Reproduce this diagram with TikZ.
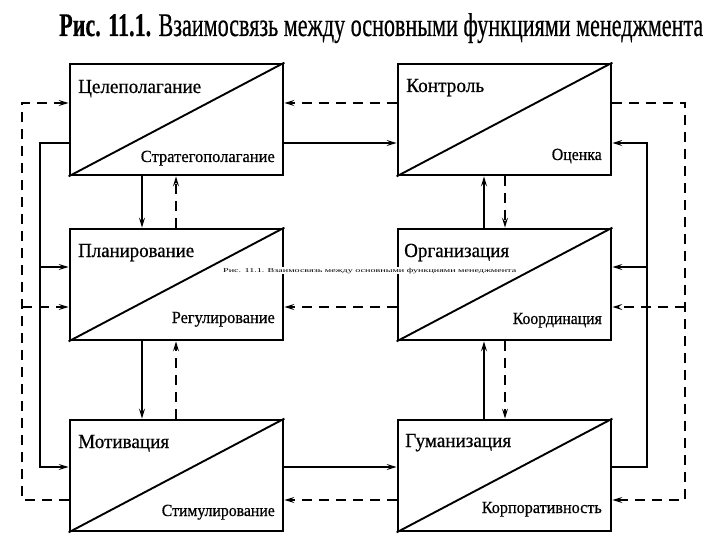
\documentclass[tikz,border=0pt]{standalone}
\usepackage{fontspec}
\setmainfont{Liberation Serif}
\newfontfamily\heavyfont[FakeBold=0.6]{Liberation Serif}
\usetikzlibrary{arrows.meta}
\newcommand{\fitw}[2]{\resizebox{#1}{\height}{#2}}
\begin{document}
\begin{tikzpicture}[x=1pt,y=-1pt,
  fbox/.style={draw,fill=white,line width=2.8pt,minimum width=213pt,minimum height=111pt,inner sep=0pt},
  diag/.style={line width=1.9pt},
  conn/.style={line width=1.6pt},
  dconn/.style={line width=1.7pt,dash pattern=on 10pt off 7pt},
  arr/.style={-{Stealth[length=10pt,width=6pt,inset=4pt]}},
  tlab/.style={anchor=base west,inner sep=1pt,fill=white,font=\heavyfont\fontsize{20}{20}\selectfont},
  blab/.style={anchor=base east,inner sep=1pt,fill=white,font=\heavyfont\fontsize{17}{17}\selectfont},
]
\fill[white] (0,0) rectangle (720,540);
\useasboundingbox (0,0) rectangle (720,540);

% title
\node[anchor=base west,inner sep=0pt] (title) at (59,36)
  {\fitw{644pt}{\heavyfont\fontsize{33}{33}\selectfont\textbf{Рис. 11.1.} Взаимосвязь между основными функциями менеджмента}};

% helper coordinates
\coordinate (yD1) at (0,103);
\coordinate (yS1) at (0,143);
\coordinate (yS2) at (0,267);
\coordinate (yD2) at (0,307);
\coordinate (yS3) at (0,467);
\coordinate (yD3) at (0,500);
\coordinate (xLd) at (22,0);
\coordinate (xLs) at (40,0);
\coordinate (xRs) at (647,0);
\coordinate (xRd) at (685,0);
\coordinate (xa) at (142,0);
\coordinate (xb) at (176,0);
\coordinate (xc) at (484,0);
\coordinate (xd) at (505,0);

% boxes
\node[fbox] (ts) at (176.5,119.5) {};
\node[fbox] (pl) at (176.5,284.5) {};
\node[fbox] (mo) at (176.5,475.5) {};
\node[fbox] (ko) at (504.5,119.5) {};
\node[fbox] (or) at (504.5,284.5) {};
\node[fbox] (gu) at (504.5,475.5) {};

\foreach \n in {ts,pl,mo,ko,or,gu}
  \draw[diag] (\n.south west) -- (\n.north east);

% labels
\node[tlab] (l1) at (77,93) {\fitw{123pt}{Целеполагание}};
\node[blab] (l2) at (276,162) {\fitw{134pt}{Стратегополагание}};
\node[tlab] (l3) at (405,92) {\fitw{78pt}{Контроль}};
\node[blab] (l4) at (603,160) {\fitw{50pt}{Оценка}};
\node[tlab] (l5) at (77,257) {\fitw{116pt}{Планирование}};
\node[blab] (l6) at (276,323) {\fitw{103pt}{Регулирование}};
\node[tlab] (l7) at (403,257) {\fitw{105pt}{Организация}};
\node[blab] (l8) at (603,324) {\fitw{89pt}{Координация}};
\node[tlab] (l9) at (77,448) {\fitw{91pt}{Мотивация}};
\node[blab] (l10) at (276,516) {\fitw{113pt}{Стимулирование}};
\node[tlab] (l11) at (404,447) {\fitw{106pt}{Гуманизация}};
\node[blab] (l12) at (603,513) {\fitw{120pt}{Корпоративность}};

% left outer dashed
\draw[dconn,arr] (mo.west |- yD3) -- (xLd |- yD3) -- (xLd |- yD1) -- (ts.west |- yD1);
\draw[dconn,arr] (xLd |- yD2) -- (pl.west |- yD2);
% left solid
\draw[conn,arr] (ts.west |- yS1) -- (xLs |- yS1) -- (xLs |- yS3) -- (mo.west |- yS3);
\draw[conn,arr] (xLs |- yS2) -- (pl.west |- yS2);
% middle horizontals
\draw[conn,arr] (ts.east |- yS1) -- (ko.west |- yS1);
\draw[dconn,arr] (ko.west |- yD1) -- (ts.east |- yD1);
\draw[dconn,arr] (or.west |- yD2) -- (pl.east |- yD2);
\draw[conn,arr] (mo.east |- yS3) -- (gu.west |- yS3);
\draw[dconn,arr] (gu.west |- yD3) -- (mo.east |- yD3);
% right outer dashed
\draw[dconn,arr] (ko.east |- yD1) -- (xRd |- yD1) -- (xRd |- yD3) -- (gu.east |- yD3);
\draw[dconn,arr] (xRd |- yD2) -- (or.east |- yD2);
% right solid
\draw[conn,arr] (gu.east |- yS3) -- (xRs |- yS3) -- (xRs |- yS1) -- (ko.east |- yS1);
\draw[conn,arr] (xRs |- yS2) -- (or.east |- yS2);
% verticals left
\draw[conn,arr] (ts.south -| xa) -- (pl.north -| xa);
\draw[conn,arr] (pl.south -| xa) -- (mo.north -| xa);
\draw[dconn,arr] (pl.north -| xb) -- (ts.south -| xb);
\draw[dconn,arr] (mo.north -| xb) -- (pl.south -| xb);
% verticals right
\draw[conn,arr] (or.north -| xc) -- (ko.south -| xc);
\draw[conn,arr] (gu.north -| xc) -- (or.south -| xc);
\draw[dconn,arr] (ko.south -| xd) -- (or.north -| xd);
\draw[dconn,arr] (or.south -| xd) -- (gu.north -| xd);

% small caption
\node[anchor=base west,inner sep=1pt,fill=white] (cap) at (222,272)
  {\fitw{293pt}{\fontsize{6}{6}\selectfont Рис. 11.1. Взаимосвязь между основными функциями менеджмента}};
\end{tikzpicture}
\end{document}
